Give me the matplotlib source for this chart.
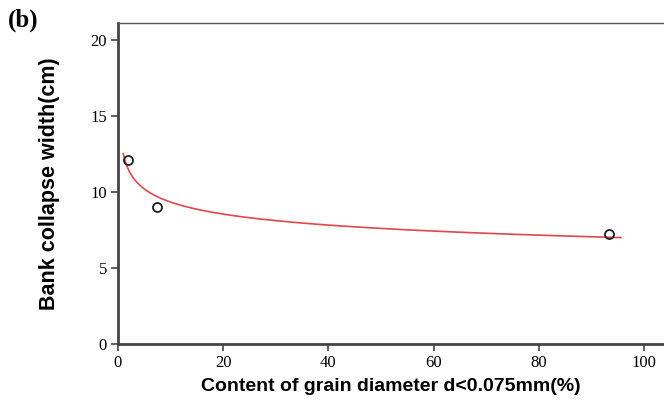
import numpy as np
import matplotlib
matplotlib.use("Agg")
import matplotlib.pyplot as plt

# measured points
grain_content = [1.9, 7.4, 93.3]     # % with d < 0.075 mm
collapse_width = [12.1, 9.0, 7.2]    # cm

x_ticks = [0, 20, 40, 60, 80, 100]
y_ticks = [0, 5, 10, 15, 20]

# power-law fit  y = a * x^b
b, lna = np.polyfit(np.log(grain_content), np.log(collapse_width), 1)
xfit = np.linspace(1.0, 95.6, 300)
yfit = np.exp(lna) * xfit ** b

fig = plt.figure(figsize=(6.64, 4.0), dpi=100)
ax = fig.add_axes([0.1777, 0.14, 0.8223, 0.8025])

ax.plot(xfit, yfit, color="#e0484e", lw=1.2, zorder=2)
ax.plot(grain_content, collapse_width, "o", mfc="none", mec="#222222",
        mew=1.3, ms=6.5, zorder=3)

ax.set_xlim(0, 103.8)
ax.set_ylim(0, 21.1)
ax.set_xticks(x_ticks)
ax.set_yticks(y_ticks)

for s in ("left", "bottom"):
    ax.spines[s].set_linewidth(2.0)
    ax.spines[s].set_color("#444444")
ax.spines["top"].set_linewidth(1.0)
ax.spines["top"].set_color("#555555")
ax.spines["right"].set_visible(False)

ax.tick_params(direction="out", length=5, width=1.2, color="#444444",
               labelsize=12, pad=3)
for lab in ax.get_xticklabels() + ax.get_yticklabels():
    lab.set_family("Liberation Serif")

ax.set_xlabel("Content of grain diameter d<0.075mm(%)", fontsize=14,
              fontweight="bold", family="Liberation Sans", labelpad=5)
ax.set_ylabel("Bank collapse width(cm)", fontsize=15.5, fontweight="bold",
              family="Liberation Sans", labelpad=22)

fig.text(0.012, 0.95, "(b)", fontsize=18, fontweight="bold",
         family="Liberation Serif", va="center")

fig.savefig("out.png", dpi=100)
